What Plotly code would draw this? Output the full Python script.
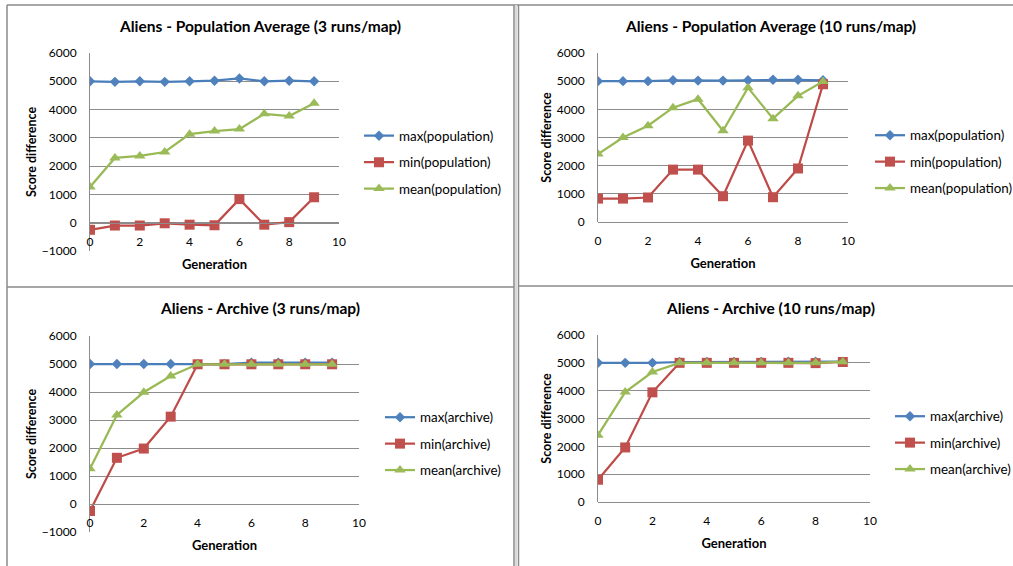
import plotly.graph_objects as go

W, H = 1013, 566

generation = [0, 1, 2, 3, 4, 5, 6, 7, 8, 9]

# Panel 1: Population Average (3 runs/map)
p3_max = [5000, 4980, 5000, 4980, 5000, 5020, 5100, 5000, 5020, 5000]
p3_min = [-250, -100, -100, -20, -70, -90, 835, -70, 20, 900]
p3_mean = [1260, 2290, 2360, 2500, 3130, 3240, 3310, 3850, 3770, 4220]

# Panel 2: Population Average (10 runs/map)
p10_max = [5000, 5000, 5000, 5030, 5020, 5020, 5030, 5050, 5050, 5030]
p10_min = [830, 830, 870, 1860, 1860, 915, 2890, 880, 1900, 4890]
p10_mean = [2410, 3000, 3420, 4060, 4360, 3240, 4770, 3670, 4480, 4990]

# Panel 3: Archive (3 runs/map)
a3_max = [5000, 5000, 5000, 5000, 5000, 5000, 5050, 5050, 5050, 5050]
a3_min = [-250, 1650, 1980, 3120, 4990, 4990, 4990, 4990, 4990, 4990]
a3_mean = [1260, 3180, 3990, 4570, 4990, 4990, 4990, 4990, 4990, 4990]

# Panel 4: Archive (10 runs/map)
a10_max = [5000, 5000, 5000, 5030, 5030, 5030, 5030, 5040, 5040, 5040]
a10_min = [800, 1960, 3940, 5000, 5000, 5000, 5000, 5000, 4990, 5030]
a10_mean = [2400, 3950, 4670, 5000, 5000, 5000, 5000, 5000, 5000, 5040]

titles = [
    "Aliens - Population Average (3 runs/map)",
    "Aliens - Population Average (10 runs/map)",
    "Aliens - Archive (3 runs/map)",
    "Aliens - Archive (10 runs/map)",
]
pop_names = ["max(population)", "min(population)", "mean(population)"]
arc_names = ["max(archive)", "min(archive)", "mean(archive)"]
y_ticks_neg = [-1000, 0, 1000, 2000, 3000, 4000, 5000, 6000]
y_ticks_pos = [0, 1000, 2000, 3000, 4000, 5000, 6000]
x_ticks = [0, 2, 4, 6, 8, 10]

FONT = "Lato, 'Open Sans', sans-serif"
COLORS = ["#4A7EBB", "#BE4B48", "#98B954"]
MCOLORS = ["#4F81BD", "#C0504D", "#9BBB59"]
SYMBOLS = ["diamond", "square", "triangle-up"]
MSIZES = [8, 10, 10]
GRID = "#8C8C8C"


def px_x(p):
    return p / W


def px_y(p):
    return 1 - p / H


panels = [
    dict(x0=90, x1=339, yt=53, yb=251, yr=[-1000, 6000], yt_vals=y_ticks_neg,
         lx=359, ly=162.5, tx=260, ty=26, names=pop_names,
         data=[p3_max, p3_min, p3_mean]),
    dict(x0=598, x1=848, yt=53, yb=222, yr=[0, 6000], yt_vals=y_ticks_pos,
         lx=870, ly=162, tx=770, ty=26, names=pop_names,
         data=[p10_max, p10_min, p10_mean]),
    dict(x0=90, x1=359, yt=336, yb=532, yr=[-1000, 6000], yt_vals=y_ticks_neg,
         lx=380, ly=444, tx=260, ty=308, names=arc_names,
         data=[a3_max, a3_min, a3_mean]),
    dict(x0=598, x1=870, yt=335, yb=502, yr=[0, 6000], yt_vals=y_ticks_pos,
         lx=890, ly=443, tx=770, ty=308, names=arc_names,
         data=[a10_max, a10_min, a10_mean]),
]

fig = go.Figure()
annotations = []
layout_axes = {}

for i, p in enumerate(panels):
    n = i + 1
    xa = "x" if n == 1 else f"x{n}"
    ya = "y" if n == 1 else f"y{n}"
    lg = "legend" if n == 1 else f"legend{n}"
    for k in range(3):
        fig.add_trace(go.Scatter(
            x=generation, y=p["data"][k], name=p["names"][k],
            mode="lines+markers", xaxis=xa, yaxis=ya, legend=lg,
            legendgroup=f"g{n}_{k}",
            line=dict(color=COLORS[k], width=2.25),
            marker=dict(symbol=SYMBOLS[k], size=MSIZES[k], color=MCOLORS[k],
                        line=dict(width=0)),
        ))
    ydom = [px_y(p["yb"]), px_y(p["yt"])]
    xdom = [px_x(p["x0"]), px_x(p["x1"])]
    y0, y1 = p["yr"]
    zero_pos = ydom[0] + (0 - y0) / (y1 - y0) * (ydom[1] - ydom[0])
    xkey = "xaxis" if n == 1 else f"xaxis{n}"
    ykey = "yaxis" if n == 1 else f"yaxis{n}"
    layout_axes[xkey] = dict(
        domain=xdom, range=[0, 10], anchor="free", position=zero_pos,
        tickvals=x_ticks, showgrid=False, zeroline=False, automargin=False,
        showline=True, linecolor=GRID, linewidth=1,
        ticks="", ticklabelstandoff=8,
        tickfont=dict(family=FONT, size=12, color="#000"),
        title=dict(text="<b>Generation</b>", standoff=11,
                   font=dict(family=FONT, size=13, color="#000")),
    )
    layout_axes[ykey] = dict(
        domain=ydom, range=p["yr"], anchor=xa, tickvals=p["yt_vals"],
        showgrid=True, gridcolor=GRID, gridwidth=1, zeroline=False,
        automargin=False,
        showline=True, linecolor=GRID, linewidth=1,
        ticks="", ticklabelstandoff=10,
        tickfont=dict(family=FONT, size=12, color="#000"),
        title=dict(text="<b>Score difference</b>", standoff=2,
                   font=dict(family=FONT, size=12.5, color="#000")),
    )
    layout_axes[lg] = dict(
        x=px_x(p["lx"]), y=px_y(p["ly"]), xanchor="left", yanchor="middle",
        bgcolor="rgba(0,0,0,0)", borderwidth=0, tracegroupgap=6,
        font=dict(family=FONT, size=13.4, color="#000"),
    )
    annotations.append(dict(
        text=f"<b>{titles[i]}</b>", x=px_x(p["tx"]), y=px_y(p["ty"]),
        xref="paper", yref="paper", showarrow=False, xanchor="center",
        yanchor="middle", font=dict(family=FONT, size=15.5, color="#000"),
    ))

BORDER = "#8A8A8A"
shapes = [
    dict(type="line", xref="paper", yref="paper", x0=px_x(7), x1=1, y0=px_y(5), y1=px_y(5),
         line=dict(color=BORDER, width=1.5)),
    dict(type="line", xref="paper", yref="paper", x0=px_x(7), x1=px_x(7), y0=0, y1=px_y(5),
         line=dict(color=BORDER, width=1.5)),
    dict(type="line", xref="paper", yref="paper", x0=px_x(516), x1=px_x(516), y0=0, y1=px_y(5),
         line=dict(color="#DADADA", width=2)),
    dict(type="line", xref="paper", yref="paper", x0=px_x(514), x1=px_x(514), y0=0, y1=px_y(5),
         line=dict(color=BORDER, width=1.5)),
    dict(type="line", xref="paper", yref="paper", x0=px_x(518.5), x1=px_x(518.5), y0=0, y1=px_y(5),
         line=dict(color=BORDER, width=1.5)),
    dict(type="line", xref="paper", yref="paper", x0=px_x(7), x1=px_x(514), y0=px_y(287), y1=px_y(287),
         line=dict(color=BORDER, width=1.5)),
    dict(type="line", xref="paper", yref="paper", x0=px_x(518.5), x1=1, y0=px_y(286), y1=px_y(286),
         line=dict(color=BORDER, width=1.5)),
]

fig.update_layout(
    width=W, height=H, margin=dict(l=0, r=0, t=0, b=0, autoexpand=False),
    paper_bgcolor="white", plot_bgcolor="white",
    showlegend=True, annotations=annotations, shapes=shapes,
    font=dict(family=FONT, size=12, color="#000"),
    **layout_axes,
)

fig.write_html(
    "out.html",
    config={"displayModeBar": False},
    post_script="document.body.style.margin='0';document.body.style.overflow='hidden';",
)
